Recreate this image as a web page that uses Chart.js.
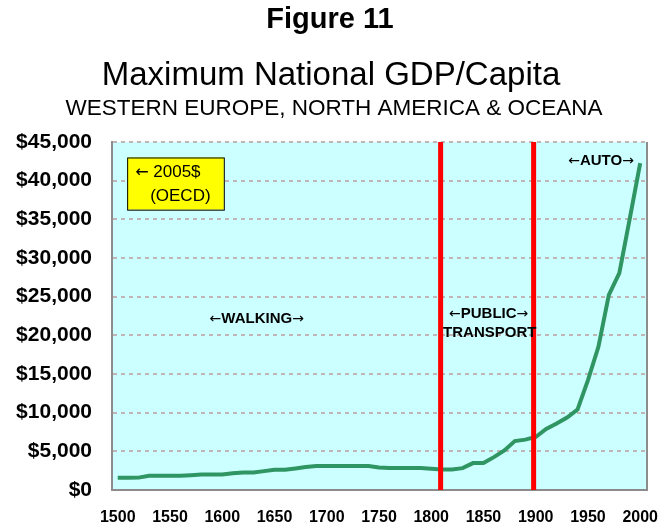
<!DOCTYPE html>
<html>
<head>
<meta charset="utf-8">
<script src="https://cdn.jsdelivr.net/npm/chart.js@4.4.0/dist/chart.umd.min.js"></script>
<style>
  html, body { margin: 0; padding: 0; background: #fff; }
  #wrap { width: 660px; height: 526px; }
</style>
</head>
<body>
<div id="wrap"><canvas id="chart" width="660" height="526"></canvas></div>
<script>
const years = [
  1500, 1510, 1520, 1530, 1540, 1550, 1560, 1570, 1580, 1590,
  1600, 1610, 1620, 1630, 1640, 1650, 1660, 1670, 1680, 1690,
  1700, 1710, 1720, 1730, 1740, 1750, 1760, 1770, 1780, 1790,
  1800, 1810, 1820, 1830, 1840, 1850, 1860, 1870, 1880, 1890,
  1900, 1910, 1920, 1930, 1940, 1950, 1960, 1970, 1980, 1990,
  2000
];
// max national GDP per capita, 2005$
const gdpPerCapita = [
  1580, 1580, 1600, 1840, 1840, 1840, 1840, 1920, 2010, 2010,
  2010, 2180, 2270, 2270, 2440, 2620, 2620, 2790, 2960, 3090,
  3090, 3090, 3090, 3090, 3090, 2920, 2830, 2830, 2830, 2830,
  2750, 2660, 2660, 2830, 3480, 3480, 4250, 5120, 6330, 6510,
  6850, 7890, 8590, 9370, 10400, 14200, 18520, 25230, 28040, 35080,
  42270
];
const yearTicks = [1500, 1550, 1600, 1650, 1700, 1750, 1800, 1850, 1900, 1950, 2000];
const gdpTicks = [0, 5000, 10000, 15000, 20000, 25000, 30000, 35000, 40000, 45000];
const eraBreaks = [1809, 1898];

const FONT = '"Liberation Sans", Arial, Helvetica, sans-serif';
const ARROW_FONT = '"DejaVu Sans", sans-serif';

// text labels, anchored in data units (year, $)
const eraLabels = [
  { text: "←WALKING→", x: 1633, y: 22070 },
  { text: "←PUBLIC→", x: 1855, y: 22760 },
  { text: "TRANSPORT", x: 1856, y: 20260 },
  { text: "←AUTO→", x: 1962.5, y: 42510 },
];
const noteBox = { x0: 1509, x1: 1601.5, y0: 43000, y1: 36250 };

// draw text with the arrows taken from a font that has full-size arrows
function mixedText(ctx, text, x, y, font, arrowFont, align) {
  const runs = text.split(/([←→])/).filter(s => s.length);
  const fontFor = s => (s === "←" || s === "→" ? arrowFont : font);
  let total = 0;
  const widths = runs.map(s => {
    ctx.font = fontFor(s);
    const w = ctx.measureText(s).width;
    total += w;
    return w;
  });
  let cx = align === "left" ? x : x - total / 2;
  ctx.textAlign = "left";
  runs.forEach((s, i) => {
    ctx.font = fontFor(s);
    ctx.fillText(s, cx, y);
    cx += widths[i];
  });
}

const decor = {
  id: "decor",
  beforeDraw(chart) {
    const { ctx, chartArea: a } = chart;
    ctx.save();
    ctx.fillStyle = "#ccffff";
    ctx.fillRect(a.left, a.top, a.right - a.left, a.bottom - a.top);

    ctx.fillStyle = "#000";
    ctx.textAlign = "center";
    ctx.textBaseline = "alphabetic";
    ctx.font = `bold 29px ${FONT}`;
    ctx.fillText("Figure 11", 330, 28);
    ctx.font = `33px ${FONT}`;
    ctx.fillText("Maximum National GDP/Capita", 331, 85);
    ctx.font = `22.5px ${FONT}`;
    ctx.fillText("WESTERN EUROPE, NORTH AMERICA & OCEANA", 334, 115);
    ctx.restore();
  },
  afterDatasetsDraw(chart) {
    const { ctx, chartArea: a, scales: { x, y } } = chart;
    ctx.save();

    // right edge of plot frame
    ctx.strokeStyle = "#8c8c8c";
    ctx.lineWidth = 2;
    ctx.beginPath();
    ctx.moveTo(a.right, a.top);
    ctx.lineTo(a.right, a.bottom);
    ctx.stroke();

    // era boundaries
    ctx.strokeStyle = "#ff0000";
    ctx.lineWidth = 5;
    eraBreaks.forEach(yr => {
      const px = x.getPixelForValue(yr);
      ctx.beginPath();
      ctx.moveTo(px, a.top);
      ctx.lineTo(px, a.bottom);
      ctx.stroke();
    });

    ctx.fillStyle = "#000";
    ctx.textBaseline = "middle";
    eraLabels.forEach(l => {
      mixedText(ctx, l.text, x.getPixelForValue(l.x), y.getPixelForValue(l.y),
        `bold 15px ${FONT}`, `14px ${ARROW_FONT}`, "center");
    });

    // yellow units note
    const bx0 = x.getPixelForValue(noteBox.x0), bx1 = x.getPixelForValue(noteBox.x1);
    const by0 = y.getPixelForValue(noteBox.y0), by1 = y.getPixelForValue(noteBox.y1);
    ctx.fillStyle = "#ffff00";
    ctx.fillRect(bx0, by0, bx1 - bx0, by1 - by0);
    ctx.strokeStyle = "#000";
    ctx.lineWidth = 1;
    ctx.strokeRect(bx0 + 0.5, by0 + 0.5, bx1 - bx0, by1 - by0);
    ctx.fillStyle = "#000";
    mixedText(ctx, "← 2005$", bx0 + 8, by0 + 15, `17px ${FONT}`, `16px ${ARROW_FONT}`, "left");
    ctx.font = `17px ${FONT}`;
    ctx.fillText("(OECD)", bx0 + 23, by0 + 39);

    ctx.restore();
  }
};

new Chart(document.getElementById("chart"), {
  type: "line",
  data: {
    datasets: [{
      label: "GDP/Capita",
      data: years.map((yr, i) => ({ x: yr, y: gdpPerCapita[i] })),
      borderColor: "#2f9563",
      borderWidth: 4,
      pointRadius: 0,
      tension: 0,
      fill: false,
    }],
  },
  options: {
    responsive: false,
    animation: false,
    devicePixelRatio: 1,
    layout: { padding: { top: 142, right: 13, bottom: 0, left: 0 } },
    plugins: {
      legend: { display: false },
      tooltip: { enabled: false },
    },
    scales: {
      x: {
        type: "linear",
        min: 1494.5,
        max: 2006.5,
        afterBuildTicks: (scale) => { scale.ticks = yearTicks.map(v => ({ value: v })); },
        afterFit: (scale) => { scale.height = 36; },
        ticks: {
          padding: 0,
          color: "#000",
          maxRotation: 0,
          autoSkip: false,
          // tall line box pushes the labels down without widening the side padding
          font: { family: FONT, size: 16, weight: "bold", lineHeight: 3.4 },
          callback: (v) => String(v),
        },
        grid: { display: false, drawTicks: false },
        border: { display: true, color: "#8c8c8c", width: 2 },
      },
      y: {
        min: 0,
        max: 45000,
        afterBuildTicks: (scale) => { scale.ticks = gdpTicks.map(v => ({ value: v })); },
        afterFit: (scale) => { scale.width = 112; },
        ticks: {
          padding: 20,
          color: "#000",
          font: { family: FONT, size: 21, weight: "bold" },
          callback: (v) => "$" + v.toLocaleString("en-US"),
        },
        grid: {
          color: (c) => (c.tick && c.tick.value === 0 ? "rgba(0,0,0,0)" : "#bfb5b5"),
          lineWidth: 2,
          drawTicks: false,
        },
        border: { display: true, color: "#8c8c8c", width: 2, dash: [4, 4] },
      },
    },
  },
  plugins: [decor],
});
</script>
</body>
</html>
